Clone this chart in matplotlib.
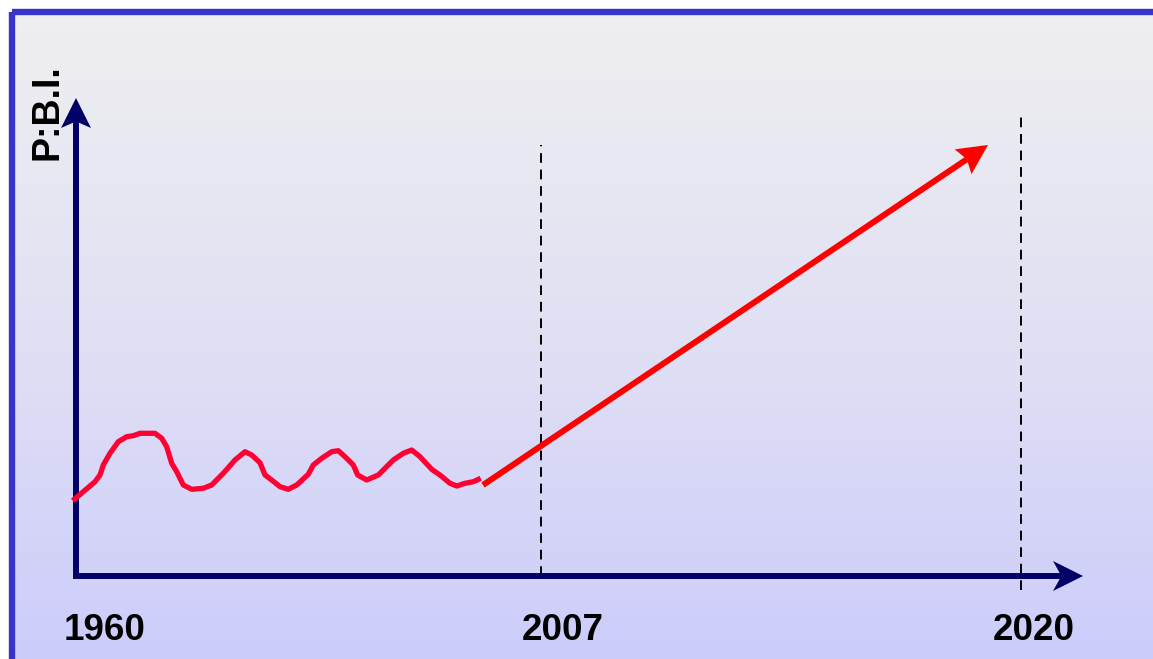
import numpy as np
import matplotlib
matplotlib.use("Agg")
import matplotlib.pyplot as plt
from matplotlib.patches import Rectangle, Polygon
from matplotlib.colors import LinearSegmentedColormap

# schematic GDP curve (arbitrary units, axis origin at 0,0)
wave_x = [-0.33, 0.73, 1.9, 2.4, 2.73, 3.4, 4.23, 5.07, 5.73, 6.4, 7.9, 8.57, 9.07,
          9.57, 10.07, 10.73, 11.57, 12.73, 13.57, 14.73, 15.9, 16.9, 17.57, 18.4,
          18.9, 19.57, 20.4, 21.23, 22.07, 23.23, 23.73, 24.57, 25.57, 26.23, 26.9,
          27.73, 28.17, 29.07, 30.23, 31.73, 32.73, 33.57, 34.4, 35.57, 36.4, 37.4,
          38.07, 38.9, 39.73, 40.47]
wave_y = [7.53, 8.43, 9.43, 10.1, 11.1, 12.27, 13.43, 13.93, 14.03, 14.27, 14.27,
          13.77, 12.93, 11.27, 10.43, 9.1, 8.67, 8.77, 9.1, 10.27, 11.6, 12.43, 12.1,
          11.33, 10.1, 9.6, 8.93, 8.67, 9.1, 10.17, 11.1, 11.77, 12.43, 12.53, 11.93,
          11.1, 10.1, 9.6, 10.1, 11.6, 12.27, 12.6, 11.93, 10.67, 10.1, 9.27, 9.0,
          9.27, 9.43, 9.77]

# projected growth arrow
trend_start = (40.7, 9.1)
trend_end = (91.2, 43.1)

# axes extents
y_axis_top = 47.8
x_axis_end = 100.7

# year markers
years = ["1960", "2007", "2020"]
year_label_x = [2.9, 48.7, 95.8]
marker_x = [46.5, 94.5]
marker_top = [43.1, 46.4]
marker_bottom = [0.0, -1.4]

W, H = 1153, 659
fig = plt.figure(figsize=(W / 100, H / 100), dpi=100)
fig.patch.set_facecolor("white")

# background panel with vertical gradient
bg = fig.add_axes([0, 0, 1, 1])
bg.set_xlim(0, W)
bg.set_ylim(H, 0)
bg.axis("off")
cmap = LinearSegmentedColormap.from_list("bg", ["#efeff1", "#e0e0f4", "#cbcbfc"])
grad = np.linspace(0, 1, 256).reshape(-1, 1)
bg.imshow(grad, cmap=cmap, aspect="auto", extent=[12, W + 20, H + 20, 12], zorder=0)
bg.add_patch(Rectangle((12, 12), W + 20, H + 20, fill=False,
                       edgecolor="#3535c8", lw=4.6, zorder=1, clip_on=False))

ax = fig.add_axes([0, 0, 1, 1])
ax.patch.set_alpha(0)
ax.set_xlim(-7.6, 107.7)
ax.set_ylim(-8.3, 57.6)
ax.axis("off")


def head(tip, start, color, length=30, width=30, notch=0.75):
    """Stealth-style arrow head, sized in pixels."""
    t = ax.transData.transform(tip)
    s = ax.transData.transform(start)
    u = (t - s) / np.hypot(*(t - s))
    n = np.array([-u[1], u[0]])
    pts = [t, t - length * u + width / 2 * n, t - notch * length * u,
           t - length * u - width / 2 * n]
    pts = ax.transData.inverted().transform(pts)
    ax.add_patch(Polygon(pts, closed=True, color=color, lw=0, zorder=4))
    # point where the shaft should stop
    return ax.transData.inverted().transform(t - notch * length * u)


navy = "#000066"
yb = head((0, y_axis_top), (0, 0), navy, notch=0.78)
xb = head((x_axis_end, 0), (0, 0), navy, notch=0.72)
ax.plot([0, 0, xb[0]], [yb[1], 0, 0], color=navy, lw=4.3,
        solid_joinstyle="miter", solid_capstyle="butt", zorder=3)

for x, y0, y1 in zip(marker_x, marker_bottom, marker_top):
    ax.plot([x, x], [y0, y1], color="black", lw=1.4, ls=(0, (5, 3.5)), zorder=1)

ax.plot(wave_x, wave_y, color="#ff0033", lw=3.8, solid_capstyle="butt",
        solid_joinstyle="round", zorder=3)

tb = head(trend_end, trend_start, "#ff0000", notch=0.85)
ax.plot([trend_start[0], tb[0]], [trend_start[1], tb[1]], color="#ff0000", lw=4.3,
        solid_capstyle="butt", zorder=3)

for lbl, x in zip(years, year_label_x):
    ax.text(x, -5.4, lbl, ha="center", va="center", fontsize=26.5,
            fontweight="bold", family="Liberation Sans", color="black")

ax.text(-2.8, 46.4, "P:B.I.", rotation=90, ha="center", va="center", fontsize=27,
        fontweight="bold", family="Liberation Sans", color="black")

fig.savefig("out.png", dpi=100)
